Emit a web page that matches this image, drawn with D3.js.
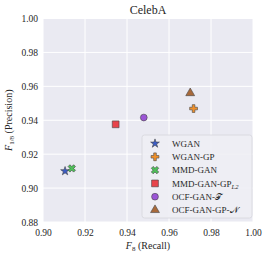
<!DOCTYPE html>
<html>
<head>
<meta charset="utf-8">
<script src="https://cdn.jsdelivr.net/npm/d3@7"></script>
<style>
  body { margin: 0; background: #fff; }
  text { font-family: "Liberation Serif", "DejaVu Serif", serif; fill: #262626; }
</style>
</head>
<body>
<div class="top"></div>
<script>
// data
const models = ['WGAN', 'WGAN-GP', 'MMD-GAN', 'MMD-GAN-GP', 'OCF-GAN-T', 'OCF-GAN-GP-N'];
const recall = [0.9105, 0.9717, 0.9137, 0.9346, 0.9480, 0.9701];
const precision = [0.9100, 0.9469, 0.9116, 0.9376, 0.9416, 0.9560];
const xTicks = [0.90, 0.92, 0.94, 0.96, 0.98, 1.00];
const yTicks = [0.88, 0.90, 0.92, 0.94, 0.96, 0.98, 1.00];
const colors = ['#3b5cc4', '#f0902a', '#4fbf5a', '#e8444b', '#9b55d6', '#a8693a'];
const shapes = [d3.symbolStar, d3.symbolCross, d3.symbolCross, d3.symbolSquare, d3.symbolCircle, d3.symbolTriangle];
const sizes = [24, 34, 34, 46, 36, 34];
const rot = [0, 0, 45, 0, 0, 0];

const W = 267, H = 256;
const m = {left: 43, right: 14, top: 18.5, bottom: 34};

const x = d3.scaleLinear().domain([0.90, 1.00]).range([m.left, W - m.right]);
const y = d3.scaleLinear().domain([0.88, 1.00]).range([H - m.bottom, m.top]);

const svg = d3.select('.top').append('svg')
  .attr('width', W).attr('height', H);

svg.append('rect')
  .attr('x', m.left).attr('y', m.top)
  .attr('width', x.range()[1] - m.left)
  .attr('height', y.range()[0] - m.top)
  .attr('fill', '#eaeaf2');

// grid
svg.append('g').selectAll('line').data(xTicks).join('line')
  .attr('x1', d => x(d)).attr('x2', d => x(d))
  .attr('y1', m.top).attr('y2', y.range()[0])
  .attr('stroke', '#fff').attr('stroke-width', 1);
svg.append('g').selectAll('line').data(yTicks).join('line')
  .attr('y1', d => y(d)).attr('y2', d => y(d))
  .attr('x1', m.left).attr('x2', x.range()[1])
  .attr('stroke', '#fff').attr('stroke-width', 1);

// axes (no domain line, seaborn style)
const xAxis = svg.append('g')
  .attr('transform', `translate(0,${y.range()[0]})`)
  .call(d3.axisBottom(x).tickValues(xTicks).tickFormat(d3.format('.2f')).tickSize(0).tickPadding(7));
const yAxis = svg.append('g')
  .attr('transform', `translate(${m.left},0)`)
  .call(d3.axisLeft(y).tickValues(yTicks).tickFormat(d3.format('.2f')).tickSize(0).tickPadding(5));
[xAxis, yAxis].forEach(a => {
  a.select('.domain').remove();
  a.selectAll('text').style('font-size', '9.5px')
    .style('font-family', '"Liberation Serif", "DejaVu Serif", serif').attr('fill', '#333');
});

// title
svg.append('text')
  .attr('x', (m.left + x.range()[1]) / 2).attr('y', 14)
  .attr('text-anchor', 'middle')
  .style('font-size', '12px')
  .text('CelebA');

// x label
const xl = svg.append('text')
  .attr('x', (m.left + x.range()[1]) / 2).attr('y', 249)
  .attr('text-anchor', 'middle')
  .style('font-size', '10px');
xl.append('tspan').style('font-style', 'italic').text('F');
xl.append('tspan').attr('dy', 2).style('font-size', '7px').text('8');
xl.append('tspan').attr('dy', -2).text(' (Recall)');

// y label
const yl = svg.append('text')
  .attr('transform', `translate(12,${(m.top + y.range()[0]) / 2}) rotate(-90)`)
  .attr('text-anchor', 'middle')
  .style('font-size', '10px');
yl.append('tspan').style('font-style', 'italic').text('F');
yl.append('tspan').attr('dy', 2).style('font-size', '7px').text('1/8');
yl.append('tspan').attr('dy', -2).text(' (Precision)');

const marker = (i) => d3.symbol().type(shapes[i]).size(sizes[i])();

// points
svg.append('g').selectAll('path').data(models).join('path')
  .attr('transform', (d, i) => `translate(${x(recall[i])},${y(precision[i])}) rotate(${rot[i]})`)
  .attr('d', (d, i) => marker(i))
  .attr('fill', (d, i) => colors[i])
  .attr('stroke', '#444').attr('stroke-width', 0.6);

// legend
const lg = svg.append('g').attr('transform', 'translate(142,135)');
lg.append('rect')
  .attr('width', 110).attr('height', 83).attr('rx', 2.5)
  .attr('fill', '#eeeef4').attr('fill-opacity', 0.9)
  .attr('stroke', '#d6d6dc').attr('stroke-width', 0.8);
const rows = lg.selectAll('g').data(models).join('g')
  .attr('transform', (d, i) => `translate(0,${8.5 + i * 13.3})`);
rows.append('path')
  .attr('transform', (d, i) => `translate(13,0) rotate(${rot[i]})`)
  .attr('d', (d, i) => marker(i))
  .attr('fill', (d, i) => colors[i])
  .attr('stroke', '#444').attr('stroke-width', 0.6);
rows.append('text')
  .attr('x', 30).attr('y', 3.3)
  .style('font-size', '9px')
  .each(function(d) {
    const t = d3.select(this);
    if (d === 'MMD-GAN-GP') {
      t.append('tspan').text('MMD-GAN-GP');
      t.append('tspan').attr('dy', 2).style('font-size', '6.5px').style('font-style', 'italic').text('L2');
    } else if (d === 'OCF-GAN-T') {
      t.append('tspan').text('OCF-GAN-');
      t.append('tspan').text('\u{1D4AF}');
    } else if (d === 'OCF-GAN-GP-N') {
      t.append('tspan').text('OCF-GAN-GP-');
      t.append('tspan').text('\u{1D4A9}');
    } else {
      t.text(d);
    }
  });
</script>
</body>
</html>
